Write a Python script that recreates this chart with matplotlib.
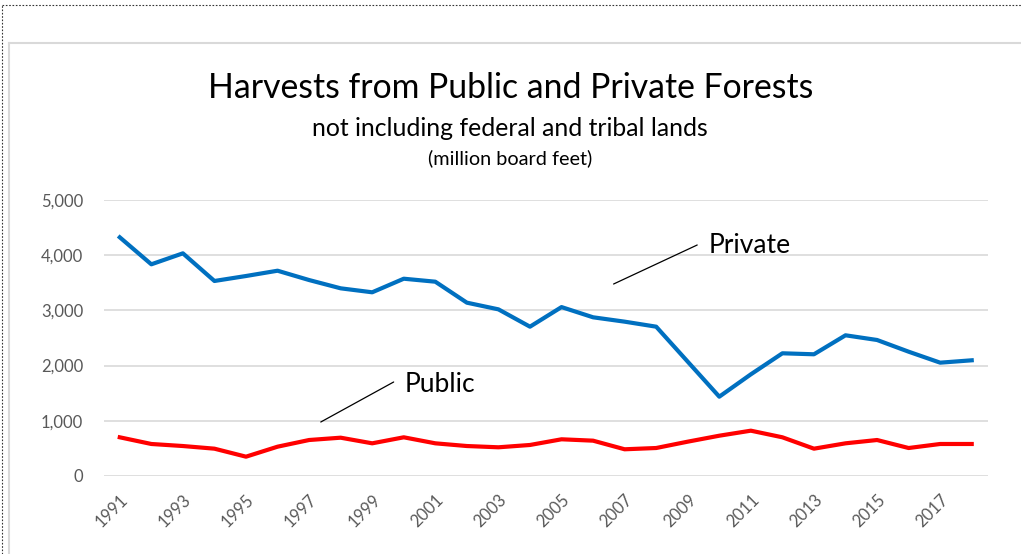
import matplotlib
matplotlib.use("Agg")
import matplotlib.pyplot as plt
from matplotlib.lines import Line2D

# harvest volumes, million board feet
years = list(range(1991, 2019))
private = [4324, 3835, 4034, 3533, 3623, 3719, 3550, 3400, 3328, 3574,
           3520, 3140, 3019, 2705, 3060, 2875, 2796, 2705, 2071, 1437,
           1842, 2223, 2205, 2549, 2464, 2252, 2053, 2096]
public = [701, 580, 543, 495, 350, 531, 652, 694, 592, 701,
          592, 543, 520, 562, 665, 640, 484, 507, 622, 730,
          821, 701, 495, 592, 652, 507, 580, 580]
tick_years = list(range(1991, 2019, 2))
y_ticks = [0, 1000, 2000, 3000, 4000, 5000]

W, H = 1021, 554
plt.rcParams['font.family'] = ['Lato', 'DejaVu Sans']

fig = plt.figure(figsize=(W / 100, H / 100), dpi=100)


def fx(x):
    return x / W


def fy(y):
    return 1 - y / H


# page borders: dotted outer, light grey chart frame
dots = dict(transform=fig.transFigure, color='#333333', lw=0.8, ls=(0, (1.5, 1.5)))
fig.add_artist(Line2D([fx(2), fx(2)], [0, fy(5)], **dots))
fig.add_artist(Line2D([fx(2), 1], [fy(5), fy(5)], **dots))
frame = dict(transform=fig.transFigure, color='#d9d9d9', lw=1.5)
fig.add_artist(Line2D([fx(9), 1], [fy(43), fy(43)], **frame))
fig.add_artist(Line2D([fx(9), fx(9)], [0, fy(43)], **frame))

left, right, top, bottom = 104, 987.5, 200, 476
ax = fig.add_axes([fx(left), fy(bottom), (right - left) / W, (bottom - top) / H])

ax.plot(years, private, color='#0070c0', lw=3, solid_joinstyle='round', zorder=3)
ax.plot(years, public, color='#ff0000', lw=3, solid_joinstyle='round', zorder=3)

ax.set_xlim(1990.5, 2018.5)
ax.set_ylim(0, 5000)
ax.set_yticks(y_ticks)
ax.set_yticklabels([f"{v:,}" for v in y_ticks])
ax.set_xticks(tick_years)
ax.set_xticklabels([str(y) for y in tick_years], rotation=45, ha='right', va='top',
                   rotation_mode='anchor')
ax.tick_params(axis='both', length=0, labelsize=12, labelcolor='#595959')
ax.tick_params(axis='y', pad=15)
ax.tick_params(axis='x', pad=11)
ax.grid(axis='y', color='#d9d9d9', lw=1.2)
ax.set_axisbelow(True)
for s in ax.spines.values():
    s.set_visible(False)

# callout labels with leader lines
lead = dict(arrowstyle='-', color='black', lw=0.9, shrinkA=0, shrinkB=0)
ax.annotate('', xy=(2006.65, 3478), xytext=(2009.3, 4185), arrowprops=lead)
ax.text(2009.66, 4040, 'Private', fontsize=19, ha='left', va='baseline')
ax.annotate('', xy=(1997.37, 978), xytext=(1999.68, 1703), arrowprops=lead)
ax.text(2000.03, 1522, 'Public', fontsize=19, ha='left', va='baseline')

fig.text(fx(511), fy(88), 'Harvests from Public and Private Forests', ha='center', va='center',
         fontsize=24.3)
fig.text(fx(510), fy(128), 'not including federal and tribal lands', ha='center', va='center',
         fontsize=17.8)
fig.text(fx(510), fy(158), '(million board feet)', ha='center', va='center',
         fontsize=14.3)

fig.savefig('out.png', dpi=100)
